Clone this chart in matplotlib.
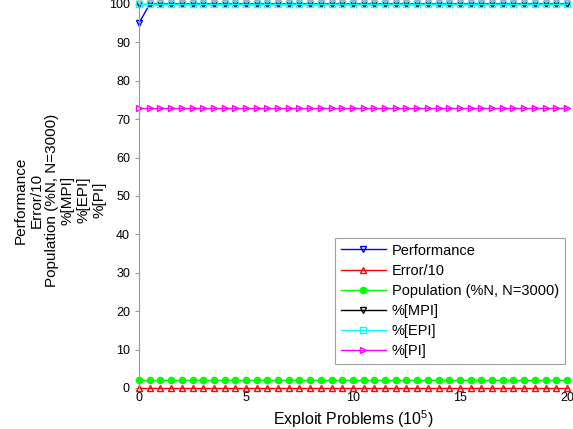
import numpy as np
import matplotlib
matplotlib.use("Agg")
import matplotlib.pyplot as plt

plt.rcParams['font.family'] = ['Liberation Sans', 'DejaVu Sans']

x = [i * 0.5 for i in range(41)]
performance = [95] + [100] * 40
error10 = [0] * 41
population = [2] * 41
mpi = [100] * 41
epi = [100] * 41
pi = [73] * 41

series = [
    ("Performance", performance, "#0000ff", "v"),
    ("Error/10", error10, "#ff0000", "^"),
    ("Population (%N, N=3000)", population, "#00ff00", "o"),
    ("%[MPI]", mpi, "#000000", "v"),
    ("%[EPI]", epi, "#00ffff", "s"),
    ("%[PI]", pi, "#ff00ff", ">"),
]

fig = plt.figure(figsize=(5.73, 4.29), dpi=100)
ax = fig.add_axes([0.2426, 0.0956, 0.7469, 0.8951])

for label, y, c, m in series:
    filled = (m == "o")
    ax.plot(x, y, color=c, lw=1.0, marker=m, ms=5 if not filled else 4.5,
            markerfacecolor=c if filled else "none", markeredgecolor=c,
            markeredgewidth=1.0, label=label, clip_on=False)

ax.set_xlim(0, 20)
ax.set_ylim(0, 100)
ax.set_xticks([0, 5, 10, 15, 20])
ax.set_yticks(range(0, 101, 10))
for s in ["top", "right", "bottom"]:
    ax.spines[s].set_visible(False)
ax.spines["left"].set_color("#999999")
ax.tick_params(axis="y", direction="out", length=3, color="#999999", labelsize=9)
ax.tick_params(axis="x", length=0, labelsize=9, pad=3)

ax.set_xlabel("Exploit Problems ($\\mathregular{10^5}$)", fontsize=11.5, labelpad=3)
fig.text(60 / 573, 1 - 200 / 429,
         "Performance\nError/10\nPopulation (%N, N=3000)\n%[MPI]\n%[EPI]\n%[PI]",
         fontsize=11, linespacing=1.15, rotation=90, ha="center", va="center",
         multialignment="center")

leg = ax.legend(loc="lower right", bbox_to_anchor=(0.995, 0.0625), fontsize=10.5,
                frameon=True, fancybox=False, edgecolor="#888888",
                handlelength=3.1, borderpad=0.4, labelspacing=0.42,
                numpoints=1, handletextpad=0.4, borderaxespad=0)
leg.get_frame().set_linewidth(0.8)

fig.savefig("out.png", dpi=100)
